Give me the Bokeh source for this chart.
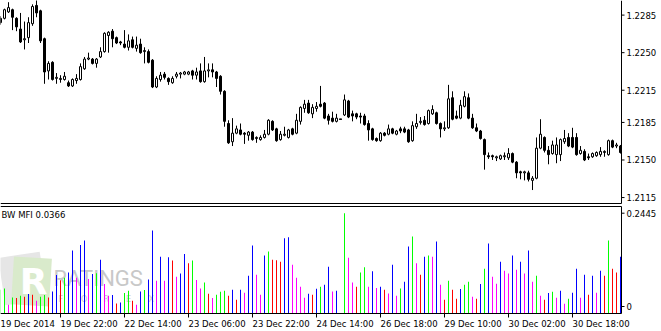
from bokeh.plotting import figure
from bokeh.layouts import column
from bokeh.models import Range1d, Label, ColumnDataSource
from bokeh.core.properties import value
from bokeh.embed import file_html
from bokeh.resources import INLINE

# ---------------- data (EURUSD H1, 19-30 Dec 2014) ----------------
opens = [
    1.2278, 1.2282, 1.2288, 1.2290, 1.2282, 1.2272, 1.2262, 1.2264, 1.2277, 1.2294,
    1.2289, 1.2263, 1.2233, 1.2241, 1.2226, 1.2225, 1.2225, 1.2222, 1.2219, 1.2224,
    1.2225, 1.2235, 1.2244, 1.2244, 1.2240, 1.2246, 1.2251, 1.2266, 1.2270, 1.2264,
    1.2260, 1.2258, 1.2255, 1.2262, 1.2254, 1.2258, 1.2251, 1.2251, 1.2243, 1.2218,
    1.2225, 1.2230, 1.2226, 1.2222, 1.2228, 1.2230, 1.2230, 1.2230, 1.2233, 1.2229,
    1.2233, 1.2223, 1.2233, 1.2234, 1.2232, 1.2228, 1.2214, 1.2184, 1.2167, 1.2175,
    1.2178, 1.2175, 1.2173, 1.2176, 1.2170, 1.2169, 1.2171, 1.2174, 1.2186, 1.2179,
    1.2169, 1.2173, 1.2171, 1.2179, 1.2175, 1.2186, 1.2198, 1.2203, 1.2193, 1.2198,
    1.2202, 1.2203, 1.2191, 1.2189, 1.2186, 1.2188, 1.2192, 1.2205, 1.2193, 1.2193,
    1.2191, 1.2191, 1.2184, 1.2179, 1.2170, 1.2168, 1.2175, 1.2174, 1.2179, 1.2174,
    1.2179, 1.2179, 1.2178, 1.2168, 1.2181, 1.2185, 1.2187, 1.2184, 1.2193, 1.2194,
    1.2184, 1.2179, 1.2180, 1.2208, 1.2191, 1.2189, 1.2200, 1.2208, 1.2189, 1.2180,
    1.2177, 1.2169, 1.2154, 1.2154, 1.2152, 1.2151, 1.2153, 1.2152, 1.2156, 1.2148,
    1.2139, 1.2138, 1.2138, 1.2131, 1.2133, 1.2161, 1.2171, 1.2159, 1.2156, 1.2155,
    1.2155, 1.2167, 1.2171, 1.2171, 1.2171, 1.2156, 1.2158, 1.2153, 1.2153, 1.2154,
    1.2155, 1.2157, 1.2155, 1.2168, 1.2163, 1.2163]

highs = [
    1.2284, 1.2291, 1.2297, 1.2291, 1.2283, 1.2287, 1.2279, 1.2283, 1.2295, 1.2299,
    1.2290, 1.2264, 1.2242, 1.2242, 1.2231, 1.2229, 1.2232, 1.2224, 1.2226, 1.2230,
    1.2240, 1.2246, 1.2250, 1.2245, 1.2245, 1.2255, 1.2269, 1.2270, 1.2272, 1.2265,
    1.2261, 1.2271, 1.2267, 1.2265, 1.2265, 1.2263, 1.2255, 1.2253, 1.2244, 1.2228,
    1.2232, 1.2232, 1.2227, 1.2228, 1.2232, 1.2232, 1.2233, 1.2233, 1.2234, 1.2236,
    1.2240, 1.2246, 1.2240, 1.2240, 1.2233, 1.2229, 1.2215, 1.2187, 1.2189, 1.2182,
    1.2184, 1.2176, 1.2177, 1.2177, 1.2172, 1.2173, 1.2178, 1.2188, 1.2187, 1.2180,
    1.2177, 1.2181, 1.2179, 1.2180, 1.2193, 1.2200, 1.2206, 1.2206, 1.2202, 1.2204,
    1.2219, 1.2204, 1.2193, 1.2195, 1.2193, 1.2188, 1.2211, 1.2206, 1.2196, 1.2194,
    1.2194, 1.2193, 1.2187, 1.2180, 1.2171, 1.2176, 1.2176, 1.2183, 1.2180, 1.2178,
    1.2181, 1.2181, 1.2179, 1.2186, 1.2193, 1.2190, 1.2191, 1.2197, 1.2201, 1.2195,
    1.2185, 1.2186, 1.2220, 1.2214, 1.2196, 1.2206, 1.2214, 1.2212, 1.2193, 1.2184,
    1.2178, 1.2170, 1.2157, 1.2155, 1.2154, 1.2155, 1.2157, 1.2161, 1.2157, 1.2149,
    1.2140, 1.2140, 1.2140, 1.2135, 1.2171, 1.2188, 1.2172, 1.2163, 1.2168, 1.2171,
    1.2170, 1.2178, 1.2175, 1.2180, 1.2175, 1.2163, 1.2160, 1.2156, 1.2157, 1.2158,
    1.2162, 1.2159, 1.2169, 1.2169, 1.2166, 1.2164]

lows = [
    1.2276, 1.2281, 1.2287, 1.2271, 1.2270, 1.2259, 1.2253, 1.2259, 1.2275, 1.2283,
    1.2259, 1.2221, 1.2225, 1.2224, 1.2221, 1.2222, 1.2224, 1.2218, 1.2218, 1.2221,
    1.2224, 1.2234, 1.2243, 1.2239, 1.2236, 1.2245, 1.2250, 1.2250, 1.2255, 1.2258,
    1.2257, 1.2254, 1.2252, 1.2254, 1.2251, 1.2249, 1.2240, 1.2240, 1.2217, 1.2217,
    1.2223, 1.2225, 1.2220, 1.2221, 1.2226, 1.2226, 1.2229, 1.2229, 1.2225, 1.2225,
    1.2222, 1.2222, 1.2227, 1.2227, 1.2218, 1.2211, 1.2181, 1.2165, 1.2163, 1.2174,
    1.2173, 1.2165, 1.2168, 1.2168, 1.2166, 1.2168, 1.2170, 1.2173, 1.2177, 1.2167,
    1.2168, 1.2172, 1.2170, 1.2173, 1.2174, 1.2183, 1.2194, 1.2193, 1.2189, 1.2195,
    1.2199, 1.2188, 1.2183, 1.2185, 1.2185, 1.2188, 1.2191, 1.2189, 1.2186, 1.2188,
    1.2184, 1.2182, 1.2168, 1.2168, 1.2167, 1.2167, 1.2172, 1.2173, 1.2174, 1.2173,
    1.2175, 1.2175, 1.2166, 1.2167, 1.2179, 1.2183, 1.2182, 1.2183, 1.2192, 1.2183,
    1.2171, 1.2177, 1.2179, 1.2187, 1.2188, 1.2188, 1.2199, 1.2188, 1.2179, 1.2176,
    1.2169, 1.2141, 1.2151, 1.2150, 1.2149, 1.2150, 1.2150, 1.2150, 1.2147, 1.2133,
    1.2132, 1.2131, 1.2130, 1.2122, 1.2132, 1.2160, 1.2157, 1.2146, 1.2155, 1.2147,
    1.2149, 1.2165, 1.2162, 1.2161, 1.2154, 1.2155, 1.2149, 1.2150, 1.2152, 1.2153,
    1.2153, 1.2153, 1.2154, 1.2161, 1.2161, 1.2156]

closes = [
    1.2282, 1.2290, 1.2292, 1.2283, 1.2274, 1.2260, 1.2263, 1.2278, 1.2293, 1.2287,
    1.2261, 1.2232, 1.2240, 1.2225, 1.2227, 1.2226, 1.2228, 1.2219, 1.2225, 1.2226,
    1.2237, 1.2244, 1.2245, 1.2240, 1.2244, 1.2251, 1.2268, 1.2269, 1.2263, 1.2259,
    1.2259, 1.2255, 1.2261, 1.2255, 1.2257, 1.2250, 1.2252, 1.2241, 1.2218, 1.2226,
    1.2229, 1.2227, 1.2223, 1.2226, 1.2230, 1.2231, 1.2232, 1.2232, 1.2229, 1.2232,
    1.2223, 1.2233, 1.2234, 1.2232, 1.2226, 1.2214, 1.2186, 1.2166, 1.2175, 1.2179,
    1.2174, 1.2174, 1.2176, 1.2169, 1.2171, 1.2171, 1.2174, 1.2187, 1.2178, 1.2168,
    1.2174, 1.2174, 1.2178, 1.2174, 1.2187, 1.2199, 1.2202, 1.2194, 1.2199, 1.2200,
    1.2200, 1.2189, 1.2187, 1.2186, 1.2189, 1.2188, 1.2206, 1.2190, 1.2191, 1.2190,
    1.2190, 1.2183, 1.2178, 1.2169, 1.2168, 1.2175, 1.2173, 1.2179, 1.2175, 1.2177,
    1.2177, 1.2176, 1.2167, 1.2182, 1.2184, 1.2186, 1.2183, 1.2196, 1.2197, 1.2184,
    1.2179, 1.2180, 1.2207, 1.2188, 1.2189, 1.2201, 1.2209, 1.2189, 1.2180, 1.2177,
    1.2170, 1.2155, 1.2153, 1.2153, 1.2153, 1.2154, 1.2154, 1.2156, 1.2148, 1.2138,
    1.2138, 1.2139, 1.2132, 1.2133, 1.2161, 1.2174, 1.2159, 1.2155, 1.2164, 1.2164,
    1.2169, 1.2170, 1.2163, 1.2162, 1.2155, 1.2159, 1.2150, 1.2152, 1.2156, 1.2157,
    1.2158, 1.2158, 1.2168, 1.2162, 1.2164, 1.2157]

mfi = [
    0.0579, 0.0611, 0.0213, 0.0391, 0.0377, 0.0433, 0.0408, 0.0474, 0.0457, 0.0311,
    0.0408, 0.0450, 0.0391, 0.0538, 0.0941, 0.0809, 0.0873, 0.1002, 0.1533, 0.0873,
    0.1672, 0.1778, 0.0841, 0.0963, 0.0983, 0.1313, 0.0719, 0.0433, 0.0450, 0.0245,
    0.0269, 0.0499, 0.0555, 0.0311, 0.0213, 0.0538, 0.0572, 0.0831, 0.2022, 0.0800,
    0.1386, 0.0800, 0.1369, 0.1289, 0.0897, 0.0978, 0.1452, 0.1223, 0.1289, 0.0817,
    0.0611, 0.0758, 0.0482, 0.0377, 0.0457, 0.0531, 0.0555, 0.0433, 0.0579, 0.0335,
    0.0579, 0.0506, 0.0922, 0.1655, 0.0946, 0.0457, 0.1411, 0.1509, 0.1313, 0.1301,
    0.1264, 0.1834, 0.1858, 0.1191, 0.0873, 0.0653, 0.0384, 0.0482, 0.0457, 0.0604,
    0.0653, 0.0702, 0.1142, 0.0538, 0.0555, 0.0000, 0.2445, 0.1362, 0.0758, 0.0653,
    0.1002, 0.1125, 0.0653, 0.1027, 0.0621, 0.0653, 0.0579, 0.0489, 0.1191, 0.0433,
    0.0611, 0.0775, 0.1631, 0.1875, 0.1223, 0.0946, 0.1386, 0.1411, 0.1386, 0.1753,
    0.0702, 0.0335, 0.0800, 0.0579, 0.0359, 0.0597, 0.0702, 0.0775, 0.0408, 0.0359,
    0.0719, 0.1093, 0.1704, 0.0897, 0.0726, 0.1264, 0.1044, 0.0978, 0.1411, 0.1068,
    0.1264, 0.0978, 0.1533, 0.0775, 0.0922, 0.0433, 0.0335, 0.0499, 0.0531, 0.0384,
    0.0555, 0.0237, 0.0359, 0.0506, 0.1093, 0.0384, 0.0946, 0.0457, 0.0922, 0.0506,
    0.1044, 0.0922, 0.1778, 0.1093, 0.1002, 0.1386]

# G = MFI up/volume up, R = down/down, B = up/down (fake), M = down/up (squat)
mfi_state = ("GGMGRGRBRM" "GGRBBRGBBM" "BBMBGBMMBR" "BGGRMBGBBM" "BMBRMBBRGM"
             "MGRMGGGRBR" "BMBBMMBGRR" "RBBMMMMBRB" "GBBMBRGMMR" "GGMBMBRMBM"
             "GBBGMRBGMB" "MRGRRBGGMR" "BGBMMBMMBM" "BMBMGMRBGM" "BMGBBMBRBM"
             "BRGRRB")

price_ticks = [1.2285, 1.2250, 1.2215, 1.2185, 1.2150, 1.2115]
mfi_max_label = 0.2445
mfi_title = "BW MFI 0.0366"

time_tick_idx = [-1, 15, 31, 47, 63, 79, 95, 111, 127, 143]
time_labels = ["19 Dec 2014", "19 Dec 22:00", "22 Dec 14:00", "23 Dec 06:00",
               "23 Dec 22:00", "24 Dec 14:00", "26 Dec 18:00", "29 Dec 10:00",
               "30 Dec 02:00", "30 Dec 18:00"]

# ---------------- layout constants ----------------
FONT = "DejaVu Sans"
FS = "8.5px"
TOTAL_W = 661
FRAME_W = 621          # chart area width; value axes sit at its right edge
BAR_PX = 4
X0 = 0.0
XR = X0 + FRAME_W / BAR_PX            # x of the right axis line (bar-index units)
TICK = 3 / BAR_PX
LABEL_X = XR + 5 / BAR_PX

P1_H = 205
P_TOP, P_BOT = 1.22986, 1.21076
PPX = (P_TOP - P_BOT) / P1_H          # price per pixel
P_FLOOR = P_BOT + 2 * PPX             # bottom border of the price window

P2_H = 126                            # lower frame: canvas y 205 .. 331
P2_PLOT_H = 108                       # histogram area: canvas y 205 .. 313
MFI_TOP = mfi_max_label * P2_PLOT_H / 100.3
MPX = MFI_TOP / P2_PLOT_H             # value per pixel in the lower panel
MFI_BOT = -(P2_H - P2_PLOT_H) * MPX
P2_CANVAS_ZERO = P1_H + P2_PLOT_H     # canvas y of the MFI zero line

STATE_COLORS = {"G": "#00FF00", "R": "#FF0000", "B": "#0000FF", "M": "#FF00FF"}

idx = list(range(len(opens)))


def make_fig(height, y0, y1):
    f = figure(width=TOTAL_W, height=height, x_range=Range1d(X0, X0 + TOTAL_W / BAR_PX),
               y_range=Range1d(y0, y1), x_axis_location=None, y_axis_location=None,
               output_backend="svg", toolbar_location=None, min_border_left=0,
               min_border_right=0, min_border_top=0, min_border_bottom=0)
    f.grid.visible = False
    f.outline_line_color = None
    f.background_fill_color = "white"
    f.border_fill_color = "white"
    return f


def value_axis(f, lo, hi, ticks, labels):
    f.segment(x0=[XR], y0=[lo], x1=[XR], y1=[hi], line_color="black", line_width=1)
    f.segment(x0=[XR] * len(ticks), x1=[XR + TICK] * len(ticks), y0=ticks, y1=ticks,
              line_color="black", line_width=1)
    f.text(x=[LABEL_X] * len(ticks), y=ticks, text=labels, text_font=value(FONT),
           text_font_size=FS, text_color="black", text_align="left", text_baseline="middle")


# ---------------- price panel ----------------
p1 = make_fig(P1_H, P_BOT, P_TOP)

src = ColumnDataSource(dict(
    x=idx, o=opens, h=highs, l=lows, c=closes,
    top=[max(o, c) for o, c in zip(opens, closes)],
    bot=[min(o, c) for o, c in zip(opens, closes)],
    fill=["white" if c >= o else "black" for o, c in zip(opens, closes)],
))
p1.segment(x0="x", y0="l", x1="x", y1="h", source=src, line_color="black", line_width=1)
p1.vbar(x="x", width=0.5, top="top", bottom="bot", source=src,
        fill_color="fill", line_color="black", line_width=1)
doji = [i for i in idx if opens[i] == closes[i]]
if doji:
    p1.segment(x0=[i - 0.375 for i in doji], x1=[i + 0.375 for i in doji],
               y0=[opens[i] for i in doji], y1=[opens[i] for i in doji],
               line_color="black", line_width=1)

p1.segment(x0=[X0], y0=[P_FLOOR], x1=[XR], y1=[P_FLOOR], line_color="black", line_width=1)
value_axis(p1, P_FLOOR, P_TOP, price_ticks, [f"{t:.4f}" for t in price_ticks])

# ---------------- BW MFI panel ----------------
p2 = make_fig(P2_H, MFI_BOT, MFI_TOP)


def cx(px):
    return X0 + px / BAR_PX


def cy(py):
    return (P2_CANVAS_ZERO - py) * MPX


# watermark
p2.rect(x=cx(22), y=cy(278), width=42, height=48, width_units="screen", height_units="screen",
        angle=0.15, fill_color="#e6e6e6", line_color=None, level="image")
p2.rect(x=cx(31), y=cy(281), width=38, height=48, width_units="screen", height_units="screen",
        angle=-0.06, fill_color="#d9eacb", line_color=None, level="image")
p2.add_layout(Label(x=cx(33), y=cy(281), text="R", text_font=FONT, text_font_size="36px",
                    text_font_style="bold", text_color="white", text_align="center",
                    text_baseline="middle", level="underlay"))
p2.add_layout(Label(x=cx(53), y=cy(278), text="RATINGS", text_font="Roboto", text_font_size="22px",
                    text_color="#c8c8c8", text_align="left", text_baseline="middle",
                    level="underlay"))
for k, ch in enumerate("FOREX"):
    p2.add_layout(Label(x=cx(58 + 22.5 * k), y=cy(299), text=ch, text_font=FONT,
                        text_font_size="8px", text_color="#c8c8c8", text_align="left",
                        text_baseline="middle", level="underlay"))

p2.vbar(x=idx, width=0.25, top=mfi, bottom=0,
        fill_color=[STATE_COLORS[s] for s in mfi_state], line_color=None)

# window borders (top line, zero/time-axis line)
MFI_CEIL = MFI_TOP - MPX
p2.segment(x0=[X0, X0], y0=[MFI_CEIL, 0], x1=[XR, XR], y1=[MFI_CEIL, 0],
           line_color="black", line_width=1)
# value axis: the "0" label sits just above the zero line, as in the terminal
value_axis(p2, 0, MFI_CEIL, [7 * MPX, mfi_max_label], ["0", f"{mfi_max_label:.4f}"])

p2.add_layout(Label(x=cx(1), y=cy(214.3), text=mfi_title, text_font=FONT, text_font_size=FS,
                    text_color="black", text_align="left", text_baseline="middle"))

# time axis: ticks and left-aligned labels on the bar-index scale
p2.segment(x0=time_tick_idx, x1=time_tick_idx, y0=[0] * len(time_tick_idx),
           y1=[-4 * MPX] * len(time_tick_idx), line_color="black", line_width=1)
lab_src = ColumnDataSource(dict(
    x=time_tick_idx, y=[-10 * MPX] * len(time_tick_idx), t=time_labels,
    dx=[4 if i < 0 else 0 for i in time_tick_idx]))
p2.text(x="x", y="y", text="t", x_offset="dx", source=lab_src, text_font=value(FONT),
        text_font_size=FS, text_color="black", text_align="left", text_baseline="middle")

layout = column(p1, p2, spacing=0)
open("out.html", "w").write(file_html(layout, INLINE))
